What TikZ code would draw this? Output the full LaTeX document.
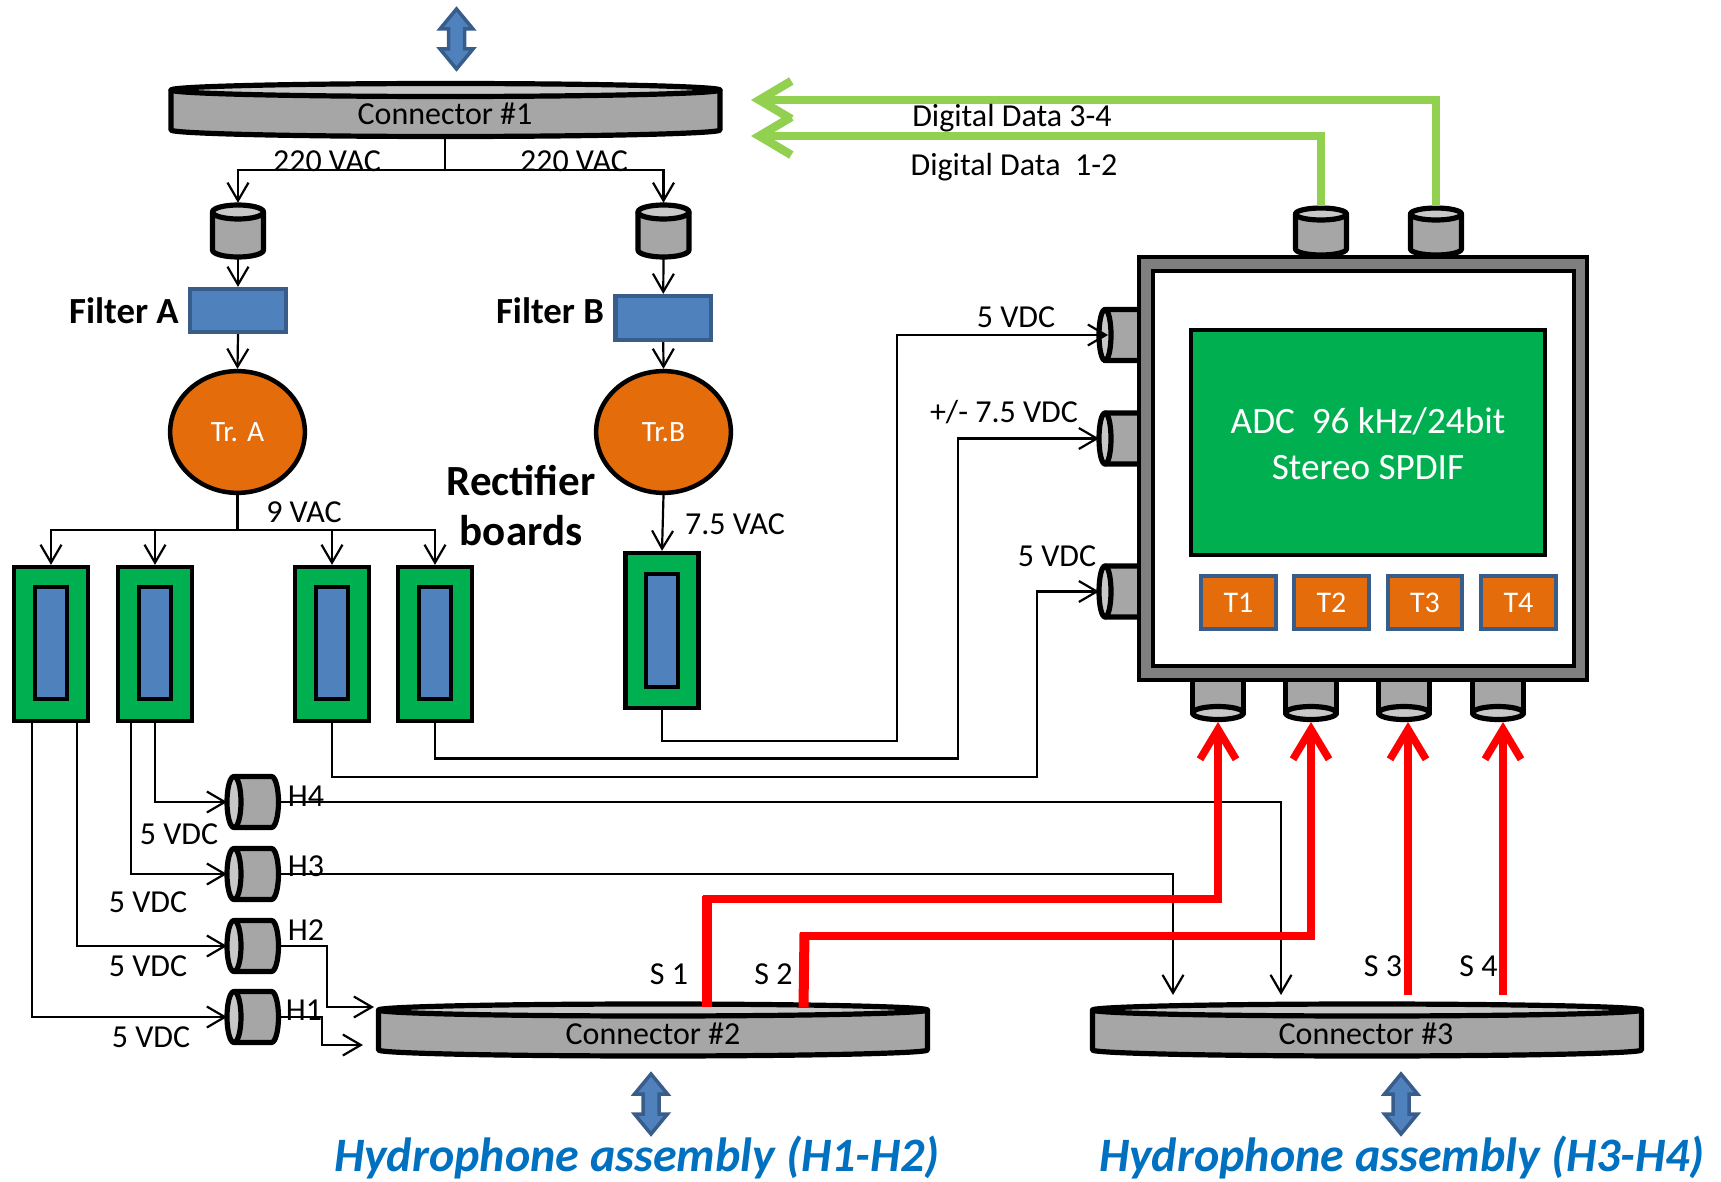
\documentclass[tikz,border=0pt]{standalone}
\usepackage{fontspec}
\setmainfont{Carlito}
\usetikzlibrary{arrows.meta,shapes.geometric}
\definecolor{cylbody}{HTML}{A6A6A6}
\definecolor{cyltop}{HTML}{C8C8C8}
\definecolor{bluefill}{HTML}{4F81BD}
\definecolor{blueline}{HTML}{385D8A}
\definecolor{orangefill}{HTML}{E46C0A}
\definecolor{greenfill}{HTML}{00B050}
\definecolor{lime}{HTML}{92D050}
\definecolor{titleblue}{HTML}{0070C0}
\definecolor{framegray}{HTML}{7F7F7F}
\tikzset{
  blk/.style={draw=black,line width=5.2pt,line join=round},
  cylside/.style={blk,fill=cylbody},
  cylcap/.style={blk,fill=cyltop},
  filterbox/.style={draw=blueline,fill=bluefill,line width=4.5pt,inner sep=0pt},
  rectboard/.style={draw=black,fill=greenfill,line width=4.5pt,inner sep=0pt},
  rectcore/.style={draw=black,fill=bluefill,line width=4.5pt,inner sep=0pt},
  trafo/.style={ellipse,draw=black,fill=orangefill,line width=4.5pt,inner sep=0pt,text=white,font=\fontsize{29.5}{34}\selectfont},
  tbox/.style={draw=blueline,fill=orangefill,line width=4.5pt,inner sep=0pt,text=white,font=\fontsize{30}{34}\selectfont},
  wire/.style={line width=2.2pt,black,line join=miter},
  wiretip/.style={wire,-{Straight Barb[length=18pt,width=21pt]}},
  greenarrow/.style={line width=8.5pt,lime,-{Straight Barb[length=32pt,width=38pt]}},
  redarrow/.style={line width=7.5pt,red,-{Straight Barb[length=30pt,width=36pt]}},
  lab/.style={inner sep=0pt,font=\fontsize{32}{36}\selectfont},
  boldlab/.style={inner sep=0pt,font=\bfseries\fontsize{36.8}{42}\selectfont},
  recticap/.style={inner sep=0pt,font=\bfseries\fontsize{43}{48}\selectfont},
  titletext/.style={inner sep=0pt,text=titleblue,font=\bfseries\itshape\fontsize{48}{52}\selectfont},
  dbl/.style={draw=blueline,fill=bluefill,line width=3.5pt,line join=miter}
}
% name, x1, y1, x2, y2, style, text
\newcommand{\mybox}[7]{%
  \pgfmathsetmacro{\myw}{#4-#2-2.25}\pgfmathsetmacro{\myh}{#5-#3-2.25}%
  \node[#6,minimum width=\myw pt,minimum height=\myh pt] (#1) at ({(#2+#4)/2},{(#3+#5)/2}) {#7};}
% name, cx, top ellipse cy, bottom arc cy, rx, ry
\newcommand{\vcyl}[6]{%
  \draw[cylside] (#2-#5,#3) -- (#2-#5,#4) arc[start angle=180,end angle=0,x radius=#5,y radius=#6] -- (#2+#5,#3) -- cycle;
  \draw[cylcap] (#2,#3) ellipse[x radius=#5,y radius=#6];
  \coordinate (#1n) at (#2,#3-#6-2.2);
  \coordinate (#1s) at (#2,#4+#6+2.2);}
% name, left ellipse cx, right arc cx, cy, rx, ry
\newcommand{\hcyl}[6]{%
  \draw[cylside] (#2,#4-#6) -- (#3,#4-#6) arc[start angle=-90,end angle=90,x radius=#5,y radius=#6] -- (#2,#4+#6) -- cycle;
  \draw[cylcap] (#2,#4) ellipse[x radius=#5,y radius=#6];
  \coordinate (#1w) at (#2-#5,#4);
  \coordinate (#1e) at (#3+#5+2.2,#4);}
% name, cx, top, bottom
\newcommand{\dblarrow}[4]{%
  \draw[dbl] (#2,#3) -- (#2+16.5,#3+20) -- (#2+8,#3+20) -- (#2+8,#4-20) -- (#2+16.5,#4-20)
    -- (#2,#4) -- (#2-16.5,#4-20) -- (#2-8,#4-20) -- (#2-8,#3+20) -- (#2-16.5,#3+20) -- cycle;
  \coordinate (#1) at (#2,{(#3+#4)/2});}
\begin{document}
\begin{tikzpicture}[x=1pt,y=-1pt]
\useasboundingbox (0,0) rectangle (1721,1182);

% double arrows
\dblarrow{arrtop}{456.5}{9}{69}
\dblarrow{arrc2}{651}{1074}{1134}
\dblarrow{arrc3}{1401}{1074}{1134}

% big connectors
\vcyl{conA}{445.5}{90}{130}{274.5}{6.5}
\vcyl{conB}{653}{1010}{1050}{274.5}{6}
\vcyl{conC}{1367}{1010}{1050}{274.5}{6}
\node[lab] (conAtext) at (445,114) {Connector \#1};
\node[lab] (conBtext) at (653,1034) {Connector \#2};
\node[lab] (conCtext) at (1366,1034) {Connector \#3};

% small input connectors
\vcyl{inA}{238}{212}{250}{25.5}{7}
\vcyl{inB}{663.5}{212}{250}{25.5}{7}

% filters
\mybox{filA}{189}{288}{287}{333}{filterbox}{}
\mybox{filB}{614.5}{295}{712}{341}{filterbox}{}

% transformers
\mybox{trA}{169}{370}{306}{494}{trafo}{Tr. A}
\mybox{trB}{595}{370}{732}{494}{trafo}{Tr.B}

% rectifier boards
\mybox{rOne}{13}{566}{89}{722}{rectboard}{}
\mybox{rTwo}{117}{566}{193}{722}{rectboard}{}
\mybox{rThree}{294}{566}{370}{722}{rectboard}{}
\mybox{rFour}{397}{566}{473}{722}{rectboard}{}
\mybox{rFive}{624.5}{552}{699.5}{709}{rectboard}{}
\mybox{coreOne}{34}{586}{68}{700}{rectcore}{}
\mybox{coreTwo}{138}{586}{172}{700}{rectcore}{}
\mybox{coreThree}{315}{586}{349}{700}{rectcore}{}
\mybox{coreFour}{418}{586}{452}{700}{rectcore}{}
\mybox{coreFive}{645}{573}{679}{688}{rectcore}{}

% hydrophone connectors
\hcyl{hFour}{234}{271.5}{802}{7}{25.5}
\hcyl{hThree}{234}{271.5}{874}{7}{25.5}
\hcyl{hTwo}{234}{271.5}{946}{7}{25.5}
\hcyl{hOne}{234}{271.5}{1017}{7}{25.5}

% ADC side and top/bottom connectors
\hcyl{sA}{1105}{1150}{335}{6}{25.5}
\hcyl{sB}{1105}{1150}{438.5}{6}{25.5}
\hcyl{sC}{1105}{1150}{591.5}{6}{25.5}
\vcyl{topA}{1321}{214}{249}{25.5}{6}
\vcyl{topB}{1436}{214}{249}{25.5}{6}
\foreach \cx in {1218,1311,1404,1498}{
  \draw[cylside] (\cx-25.5,670) rectangle (\cx+25.5,713);
  \draw[cylcap] (\cx,713) ellipse[x radius=25.5,y radius=6.5];
}

% ADC box
\mybox{frame}{1138}{256}{1588}{681}{draw=black,fill=framegray,line width=4.5pt,inner sep=0pt}{}
\mybox{panel}{1152}{270}{1575}{667}{draw=black,fill=white,line width=4.5pt,inner sep=0pt}{}
\mybox{adc}{1190}{329}{1546}{556}{draw=black,fill=greenfill,line width=4.5pt,inner sep=0pt}{}
\node[inner sep=0pt,text=white,align=center,font=\fontsize{37.2}{45.5}\selectfont] (adctext) at (1368,443.5) {ADC~ 96 kHz/24bit\\Stereo SPDIF};
\mybox{tOne}{1200}{575}{1277}{630}{tbox}{T1}
\mybox{tTwo}{1293}{575}{1370}{630}{tbox}{T2}
\mybox{tThree}{1387}{575}{1463}{630}{tbox}{T3}
\mybox{tFour}{1480}{575}{1557}{630}{tbox}{T4}

% named ends
\coordinate (dA) at (751,136);
\coordinate (dB) at (751,100);
\coordinate (oA) at (1218,722);
\coordinate (oB) at (1311,722);
\coordinate (oC) at (1408,722);
\coordinate (oD) at (1503,722);
\coordinate (redS) at (707,1007);
\coordinate (redT) at (803.5,1007);
\coordinate (redU) at (1408,995);
\coordinate (redV) at (1503,995);
\coordinate (hOneIn) at (32.3,722);
\coordinate (hTwoIn) at (76.7,722);
\coordinate (hThreeIn) at (131,722);
\coordinate (hFourIn) at (155,722);
\coordinate (conBa) at (374,1007);
\coordinate (conBb) at (363,1045);
\coordinate (conCa) at (1173,995);
\coordinate (conCb) at (1281,995);
\coordinate (split) at (445,170);
\coordinate (nine) at (237.5,530);
\coordinate (sAin) at (1108,335);

% power wiring
\draw[wire] (445,137) -- (split);
\draw[wiretip] (split) -| (inAn);
\draw[wiretip] (split) -| (inBn);
\draw[wiretip] (inAs) -- (filA.north);
\draw[wiretip] (inBs) -- (filB.north);
\draw[wiretip] (filA.south) -- (trA.north);
\draw[wiretip] (filB.south) -- (trB.north);
\draw[wire] (trA.south) -- (nine);
\draw[wiretip] (nine) -| (rOne.north);
\draw[wiretip] (nine) -| (rTwo.north);
\draw[wiretip] (nine) -| (rThree.north);
\draw[wiretip] (nine) -| (rFour.north);
\draw[wiretip] (trB.south) -- (rFive.north);
\draw[wiretip] (rFive.south) |- (897,741) |- (sAin);
\draw[wiretip] (rFour.south) |- (958,758.5) |- (sBw);
\draw[wiretip] (rThree.south) |- (1037,777) |- (sCw);

% hydrophone wiring
\draw[wiretip] (hFourIn) |- (hFourw);
\draw[wiretip] (hThreeIn) |- (hThreew);
\draw[wiretip] (hTwoIn) |- (hTwow);
\draw[wiretip] (hOneIn) |- (hOnew);
\draw[wiretip] (hFoure) -| (conCb);
\draw[wiretip] (hThreee) -| (conCa);
\draw[wiretip] (hTwoe) -| (327,1007) -- (conBa);
\draw[wiretip] (hOnee) -| (322,1045) -- (conBb);

% digital data
\draw[greenarrow] (topAn) |- (dA);
\draw[greenarrow] (topBn) |- (dB);

% signal wiring
\draw[redarrow] (redS) |- (1218,899) -- (oA);
\draw[redarrow] (redT) |- (1311,936) -- (oB);
\draw[redarrow] (redU) -- (oC);
\draw[redarrow] (redV) -- (oD);
\draw[line width=10pt,red] (redS) -- (707,896);
\draw[line width=10pt,red] (redT) -- (804.5,933);

% labels
\node[lab] (lVACa) at (327,161) {220 VAC};
\node[lab] (lVACb) at (574,161) {220 VAC};
\node[boldlab] (lFilA) at (124,311) {Filter A};
\node[boldlab] (lFilB) at (550,311) {Filter B};
\node[lab] (lNine) at (304,512) {9 VAC};
\node[lab] (lSeven) at (735,524) {7.5 VAC};
\node[recticap] (lRecA) at (521,481) {Rectifier};
\node[recticap] (lRecB) at (521,531) {boards};
\node[lab] (lDCa) at (1016,317) {5 VDC};
\node[lab] (lDCb) at (1004,412) {+/- 7.5 VDC};
\node[lab] (lDCc) at (1057,556) {5 VDC};
\node[lab] (lData) at (1012,118) {Digital Data 3-4};
\node[lab] (lDatb) at (1014,167) {Digital Data~ 1-2};
\node[lab] (lHfour) at (179,834) {5 VDC};
\node[lab] (lHthree) at (148,902) {5 VDC};
\node[lab] (lHtwo) at (148,966) {5 VDC};
\node[lab] (lHone) at (151,1037) {5 VDC};
\node[lab] (nHfour) at (306,796) {H4};
\node[lab] (nHthree) at (306,866) {H3};
\node[lab] (nHtwo) at (306,930) {H2};
\node[lab] (nHone) at (304,1010) {H1};
\node[lab] (sOne) at (669,974) {S 1};
\node[lab] (sTwo) at (773.5,974) {S 2};
\node[lab] (sThree) at (1383,966) {S 3};
\node[lab] (sFour) at (1478.5,966) {S 4};
\node[titletext] (tA) at (637,1157.5) {Hydrophone assembly (H1-H2)};
\node[titletext] (tB) at (1402,1157.5) {Hydrophone assembly (H3-H4)};
\end{tikzpicture}
\end{document}
